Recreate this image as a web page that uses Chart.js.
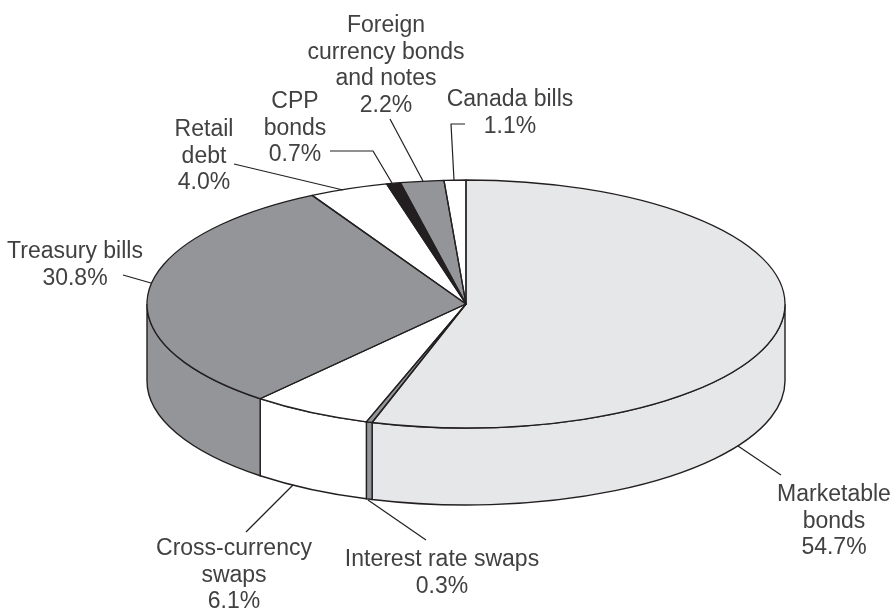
<!DOCTYPE html>
<html>
<head>
<meta charset="utf-8">
<style>html,body{margin:0;padding:0;background:#fff}canvas{display:block}</style>
<script src="https://cdn.jsdelivr.net/npm/chart.js@4"></script>
</head>
<body>
<canvas id="c" width="893" height="609"></canvas>
<script>
// Data
const categories = ['Marketable bonds','Interest rate swaps','Cross-currency swaps','Treasury bills','Retail debt','CPP bonds','Foreign currency bonds and notes','Canada bills'];
const shares = [54.7,0.3,6.1,30.8,4.0,0.7,2.2,1.1];
const labelLines = [['Marketable','bonds'],['Interest rate swaps'],['Cross-currency','swaps'],['Treasury bills'],['Retail','debt'],['CPP','bonds'],['Foreign','currency bonds','and notes'],['Canada bills']];
// Style
const sliceColors = ['#e6e7e8','#939598','#ffffff','#939598','#ffffff','#231f20','#939598','#ffffff'];
const INK = '#231f20', TEXT = '#414042';
// Layout
const RX = 319, RY = 124, DEPTH = 77;
const labelAnchors = [[834,501],[442,566],[234,555],[75,258],[204,136],[295,108],[386,32],[510,106]];
const LINE_H = 26.5;
const leaders = [
  [[738,446],[781,475]],
  [[368,500],[426,540]],
  [[293,485],[246,532]],
  [[123,275],[151,283]],
  [[234,164],[343,190]],
  [[330,151],[373,151],[392,183]],
  [[390,119],[423,181]],
  [[465,124],[451,124],[454,180]]
];

const pie3d = {
  id: 'pie3d',
  beforeDatasetsDraw(chart) {
    const {ctx} = chart, arcs = chart.getDatasetMeta(0).data;
    ctx.save();
    arcs.forEach(el => {
      const a = Math.max(el.startAngle, 0), b = Math.min(el.endAngle, Math.PI);
      if (b <= a) return;
      ctx.beginPath();
      ctx.ellipse(el.x, el.y, RX, RY, 0, a, b);
      ctx.ellipse(el.x, el.y + DEPTH, RX, RY, 0, b, a, true);
      ctx.closePath();
      ctx.fillStyle = el.options.backgroundColor;
      ctx.fill();
      ctx.strokeStyle = INK;
      ctx.lineWidth = 1.4;
      ctx.stroke();
    });
    ctx.restore();
    // Squash the library's pie into the top ellipse
    const el = arcs[0];
    ctx.save();
    ctx.translate(el.x, el.y);
    ctx.scale(1, RY / RX);
    ctx.translate(-el.x, -el.y);
  },
  afterDatasetsDraw(chart) {
    const {ctx} = chart, arcs = chart.getDatasetMeta(0).data;
    ctx.restore();
    ctx.save();
    ctx.strokeStyle = INK;
    ctx.lineWidth = 1.3;
    ctx.lineJoin = 'round';
    arcs.forEach(el => {
      ctx.beginPath();
      ctx.moveTo(el.x, el.y);
      ctx.ellipse(el.x, el.y, RX, RY, 0, el.startAngle, el.endAngle);
      ctx.closePath();
      ctx.stroke();
    });
    // Leader lines
    ctx.lineWidth = 1.2;
    leaders.forEach(pts => {
      ctx.beginPath();
      pts.forEach((p, i) => i ? ctx.lineTo(p[0], p[1]) : ctx.moveTo(p[0], p[1]));
      ctx.stroke();
    });
    // Labels
    ctx.fillStyle = TEXT;
    ctx.font = '23px "Liberation Sans", Arial, sans-serif';
    ctx.textAlign = 'center';
    ctx.textBaseline = 'alphabetic';
    labelLines.forEach((lines, i) => {
      const [x, y] = labelAnchors[i];
      [...lines, shares[i].toFixed(1) + '%'].forEach((t, k) => ctx.fillText(t, x, y + k * LINE_H));
    });
    ctx.restore();
  }
};

new Chart(document.getElementById('c'), {
  type: 'pie',
  data: {
    labels: categories,
    datasets: [{ data: shares, backgroundColor: sliceColors, borderWidth: 0, clip: false, radius: RX }]
  },
  options: {
    responsive: false,
    animation: false,
    radius: RX,
    layout: { padding: { left: 39, bottom: 1 } },
    plugins: { legend: { display: false }, tooltip: { enabled: false } }
  },
  plugins: [pie3d]
});
</script>
</body>
</html>
